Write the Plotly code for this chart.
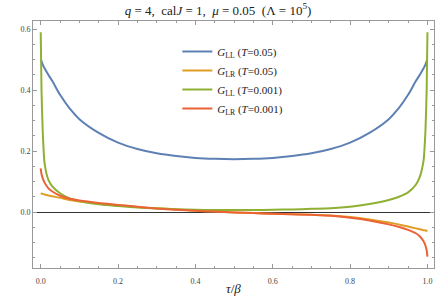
import plotly.graph_objects as go

tau = [0, 0.002, 0.005, 0.01, 0.02, 0.03, 0.05, 0.075, 0.1, 0.15, 0.2, 0.25, 0.3, 0.35, 0.4, 0.45,
       0.5, 0.55, 0.6, 0.65, 0.7, 0.75, 0.8, 0.85, 0.9, 0.925, 0.95, 0.97, 0.98, 0.99, 0.995, 0.998, 1.0]

g_ll_005 = [0.50, 0.495, 0.485, 0.472, 0.45, 0.43, 0.385, 0.34, 0.305, 0.26, 0.228, 0.207, 0.193, 0.184, 0.178, 0.175,
            0.174, 0.175, 0.178, 0.184, 0.193, 0.207, 0.228, 0.26, 0.305, 0.34, 0.385, 0.43, 0.45, 0.472, 0.485, 0.495, 0.50]

g_lr_005 = [0.062, 0.061, 0.060, 0.058, 0.055, 0.052, 0.047, 0.040, 0.035, 0.028, 0.023, 0.017, 0.013, 0.009, 0.005, 0.002,
            -0.001, -0.003, -0.005, -0.007, -0.008, -0.011, -0.016, -0.024, -0.034, -0.040, -0.047, -0.053, -0.056, -0.059, -0.060, -0.061, -0.062]

g_ll_0001 = [0.59, 0.40, 0.27, 0.16, 0.105, 0.085, 0.062, 0.045, 0.037, 0.026, 0.020, 0.015, 0.012, 0.010, 0.008, 0.007,
             0.007, 0.007, 0.008, 0.009, 0.011, 0.013, 0.018, 0.027, 0.040, 0.050, 0.065, 0.09, 0.115, 0.17, 0.27, 0.40, 0.59]

g_lr_0001 = [0.144, 0.125, 0.112, 0.097, 0.078, 0.068, 0.054, 0.044, 0.038, 0.030, 0.024, 0.018, 0.012, 0.008, 0.005, 0.002,
             -0.001, -0.003, -0.005, -0.007, -0.008, -0.012, -0.018, -0.027, -0.040, -0.048, -0.058, -0.069, -0.079, -0.095, -0.11, -0.125, -0.146]

series = [
    ("<i>G</i><sub>LL</sub> (<i>T</i>=0.05)", g_ll_005, "#5E81B5", 1.0),
    ("<i>G</i><sub>LR</sub> (<i>T</i>=0.05)", g_lr_005, "#E19C24", 0.6),
    ("<i>G</i><sub>LL</sub> (<i>T</i>=0.001)", g_ll_0001, "#8FB032", 0.6),
    ("<i>G</i><sub>LR</sub> (<i>T</i>=0.001)", g_lr_0001, "#EB6235", 0.6),
]

fig = go.Figure()
for name, vals, col, sm in series:
    fig.add_trace(go.Scatter(x=tau, y=vals, mode="lines", name=name,
                             line=dict(color=col, width=2, shape="spline", smoothing=sm)))

serif = "'Liberation Serif', 'Times New Roman', 'DejaVu Serif', serif"
axis_common = dict(
    showline=True, linecolor="#999999", linewidth=1, mirror="ticks",
    ticks="inside", ticklen=4, tickcolor="#999999", tickwidth=1,
    showgrid=False, tickfont=dict(family=serif, size=8, color="#444444"),
    minor=dict(ticks="inside", ticklen=2, tickcolor="#999999", showgrid=False),
)

fig.update_layout(
    width=436, height=306,
    margin=dict(l=33, r=2, t=21, b=38),
    paper_bgcolor="white", plot_bgcolor="white",
    font=dict(family=serif, color="#222222"),
    title=dict(text="<i>q</i>\u00a0=\u00a04,\u00a0\u00a0cal<i>J</i>\u00a0=\u00a01,\u00a0\u00a0<i>μ</i>\u00a0=\u00a00.05\u00a0\u00a0(Λ\u00a0=\u00a010<sup>5</sup>)",
               x=0.5, xanchor="center", y=0.967, yanchor="middle", font=dict(family=serif, size=13, color="#222222")),
    xaxis=dict(range=[-0.02, 1.017], tickvals=[0, 0.2, 0.4, 0.6, 0.8, 1.0],
               ticktext=["0.0", "0.2", "0.4", "0.6", "0.8", "1.0"], ticklabelstandoff=5,
               zeroline=False, **axis_common),
    yaxis=dict(range=[-0.183, 0.627], tickvals=[0.0, 0.2, 0.4, 0.6],
               ticktext=["0.0", "0.2", "0.4", "0.6"],
               zeroline=True, zerolinecolor="#333333", zerolinewidth=1, **axis_common),
    legend=dict(x=0.36, y=0.935, xanchor="left", yanchor="top", bgcolor="rgba(0,0,0,0)",
                font=dict(family=serif, size=11, color="#222222"), itemwidth=30),
    annotations=[dict(text="<i>τ</i>/<i>β</i>", xref="paper", yref="paper", x=0.5, y=-0.082,
                      xanchor="center", yanchor="middle", showarrow=False,
                      font=dict(family=serif, size=13, color="#222222"))],
)
fig.update_xaxes(minor_dtick=0.05)
fig.update_yaxes(minor_dtick=0.05)

fig.write_html("out.html", config={"displayModeBar": False},
               post_script="document.body.style.margin='0';document.body.style.overflow='hidden';")
